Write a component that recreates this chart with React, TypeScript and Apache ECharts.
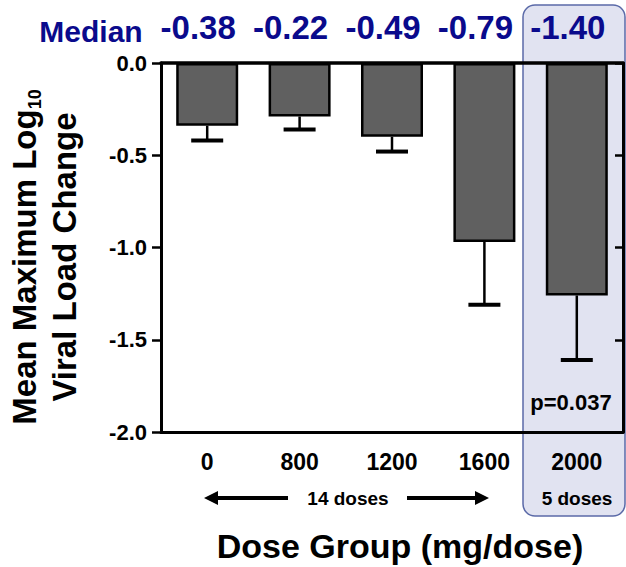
import React, { useEffect, useRef } from "react";
import * as echarts from "echarts";

const categories = ["0", "800", "1200", "1600", "2000"];
const meanChange = [-0.34, -0.29, -0.4, -0.97, -1.26];
const errorLow = [-0.42, -0.36, -0.48, -1.31, -1.61];
const medians = ["-0.38", "-0.22", "-0.49", "-0.79", "-1.40"];
const yMin = -2;
const yMax = 0;
const yInterval = 0.5;

const FONT = "'Liberation Sans', Arial, Helvetica, sans-serif";
const NAVY = "#0a0a8c";

export default function App() {
  const ref = useRef<HTMLDivElement>(null);

  useEffect(() => {
    document.body.style.margin = "0";
    if (!ref.current) return;
    const chart = echarts.init(ref.current, null, { renderer: "svg" });

    const errData = categories.map((_, i) => [i, meanChange[i], errorLow[i]]);

    const option: any = {
      animation: false,
      backgroundColor: "#ffffff",
      textStyle: { fontFamily: FONT },
      grid: { left: 161, right: 3, top: 63, bottom: 135, containLabel: false },
      xAxis: [
        {
          type: "category",
          data: categories,
          position: "bottom",
          z: 10,
          axisLine: { onZero: false, lineStyle: { color: "#000", width: 3 } },
          axisTick: { alignWithLabel: true, length: 8, lineStyle: { color: "#000", width: 2.5 } },
          axisLabel: {
            interval: 0,
            hideOverlap: false,
            color: "#000",
            fontFamily: FONT,
            fontWeight: "bold",
            fontSize: 23,
            margin: 18,
          },
          splitLine: { show: false },
        },
        {
          type: "category",
          data: medians,
          position: "top",
          z: 10,
          axisLine: { onZero: false, lineStyle: { color: "#000", width: 3.5 } },
          axisTick: { show: false },
          axisLabel: {
            interval: 0,
            hideOverlap: false,
            color: NAVY,
            fontFamily: FONT,
            fontWeight: "bold",
            fontSize: 33,
            margin: 19,
            padding: [0, 18, 0, 0],
          },
          splitLine: { show: false },
        },
      ],
      yAxis: [
        {
          type: "value",
          min: yMin,
          max: yMax,
          interval: yInterval,
          position: "left",
          z: 10,
          axisLine: { show: true, lineStyle: { color: "#000", width: 3 } },
          axisTick: { show: true, length: 9, lineStyle: { color: "#000", width: 2.5 } },
          axisLabel: {
            color: "#000",
            fontFamily: FONT,
            fontWeight: "bold",
            fontSize: 22,
            margin: 14,
            formatter: (v: number) => v.toFixed(1),
          },
          splitLine: { show: false },
        },
        {
          type: "value",
          min: yMin,
          max: yMax,
          interval: yInterval,
          position: "right",
          z: 10,
          axisLine: { show: true, lineStyle: { color: "#000", width: 3 } },
          axisTick: { show: true, inside: true, length: 8, lineStyle: { color: "#000", width: 2.5 } },
          axisLabel: { show: false },
          splitLine: { show: false },
        },
      ],
      graphic: [
        {
          type: "rect",
          z: -10,
          shape: { x: 523, y: 5, width: 102, height: 511, r: 12 },
          style: { fill: "#e1e3f1", stroke: "#5b6aa8", lineWidth: 1.5 },
        },
        {
          type: "text",
          x: 91,
          y: 31,
          z: 100,
          style: {
            text: "Median",
            fill: NAVY,
            font: `bold 30px ${FONT}`,
            textAlign: "center",
            textVerticalAlign: "middle",
          },
        },
        {
          type: "text",
          x: 44,
          y: 257,
          rotation: Math.PI / 2,
          z: 100,
          style: {
            text: "{a|Mean Maximum Log}{s|10}\n{a|Viral Load Change}",
            textAlign: "center",
            textVerticalAlign: "middle",
            fill: "#000",
            rich: {
              a: { fontFamily: FONT, fontWeight: "bold", fontSize: 33, lineHeight: 40, fill: "#000" },
              s: {
                fontFamily: FONT,
                fontWeight: "bold",
                fontSize: 18,
                lineHeight: 18,
                verticalAlign: "bottom",
                fill: "#000",
              },
            },
          },
        },
        {
          type: "text",
          x: 348,
          y: 498,
          z: 100,
          style: {
            text: "14 doses",
            fill: "#000",
            font: `bold 19px ${FONT}`,
            textAlign: "center",
            textVerticalAlign: "middle",
          },
        },
        {
          type: "text",
          x: 577,
          y: 498,
          z: 100,
          style: {
            text: "5 doses",
            fill: "#000",
            font: `bold 19px ${FONT}`,
            textAlign: "center",
            textVerticalAlign: "middle",
          },
        },
        {
          type: "text",
          x: 571,
          y: 402,
          z: 100,
          style: {
            text: "p=0.037",
            fill: "#000",
            font: `bold 22px ${FONT}`,
            textAlign: "center",
            textVerticalAlign: "middle",
          },
        },
        {
          type: "text",
          x: 400,
          y: 546,
          z: 100,
          style: {
            text: "Dose Group (mg/dose)",
            fill: "#000",
            font: `bold 34px ${FONT}`,
            textAlign: "center",
            textVerticalAlign: "middle",
          },
        },
        {
          type: "line",
          z: 100,
          shape: { x1: 216, y1: 498, x2: 288, y2: 498 },
          style: { stroke: "#000", lineWidth: 4 },
        },
        {
          type: "polygon",
          z: 100,
          shape: { points: [[204, 498], [218, 491], [218, 505]] },
          style: { fill: "#000" },
        },
        {
          type: "line",
          z: 100,
          shape: { x1: 407, y1: 498, x2: 477, y2: 498 },
          style: { stroke: "#000", lineWidth: 4 },
        },
        {
          type: "polygon",
          z: 100,
          shape: { points: [[489, 498], [475, 491], [475, 505]] },
          style: { fill: "#000" },
        },
      ],
      series: [
        {
          type: "bar",
          data: meanChange,
          xAxisIndex: 0,
          yAxisIndex: 0,
          barWidth: 62,
          itemStyle: { color: "#606060", borderColor: "#000", borderWidth: 2.5 },
          z: 3,
        },
        {
          type: "custom",
          xAxisIndex: 0,
          yAxisIndex: 0,
          data: errData,
          encode: { x: 0, y: [1, 2] },
          z: 4,
          renderItem: (params: any, api: any) => {
            const idx = api.value(0);
            const top = api.coord([idx, api.value(1)]);
            const bot = api.coord([idx, api.value(2)]);
            const half = 16;
            return {
              type: "group",
              children: [
                {
                  type: "line",
                  shape: { x1: top[0], y1: top[1], x2: bot[0], y2: bot[1] },
                  style: { stroke: "#000", lineWidth: 2.5 },
                },
                {
                  type: "line",
                  shape: { x1: bot[0] - half, y1: bot[1], x2: bot[0] + half, y2: bot[1] },
                  style: { stroke: "#000", lineWidth: 4 },
                },
              ],
            };
          },
        },
      ],
    };

    chart.setOption(option);
    return () => chart.dispose();
  }, []);

  return <div ref={ref} style={{ width: 626, height: 567 }} />;
}
